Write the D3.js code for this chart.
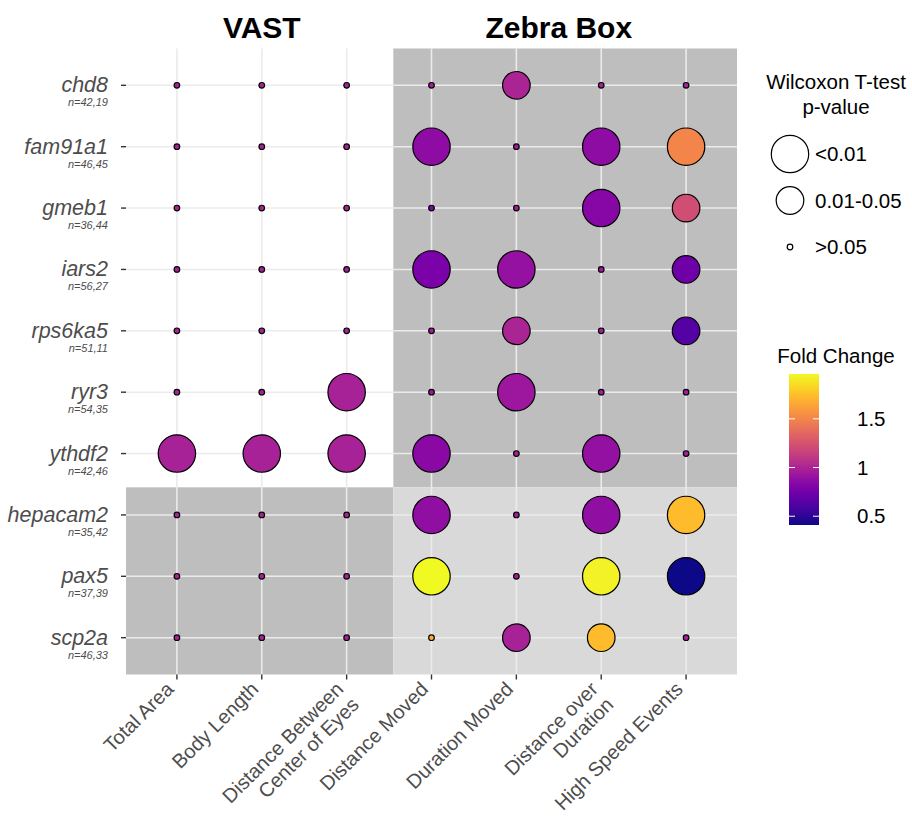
<html>
<head>
    <script src="https://d3js.org/d3.v7.min.js"></script>
    <style type="text/css">
        body { margin: 0; background: white; }
        text { font-family: "Liberation Sans", Arial, sans-serif; }
        line.grid { stroke: #ebebeb; stroke-width: 1.6; }
        line.tick { stroke: #333333; stroke-width: 1.4; }
        text.axis { fill: #4d4d4d; }
    </style>
</head>

<body>
    <svg></svg>

    <script>
        const genes = ["chd8", "fam91a1", "gmeb1", "iars2", "rps6ka5", "ryr3", "ythdf2", "hepacam2", "pax5", "scp2a"];
        const nLabels = ["n=42,19", "n=46,45", "n=36,44", "n=56,27", "n=51,11", "n=54,35", "n=42,46", "n=35,42", "n=37,39", "n=46,33"];
        const measures = ["Total Area", "Body Length", "Distance Between\nCenter of Eyes", "Distance Moved",
                          "Duration Moved", "Distance over\nDuration", "High Speed Events"];
        const groups = ["VAST", "Zebra Box"];

        // p-value class: 0 = >0.05, 1 = 0.01-0.05, 2 = <0.01
        const pClass = [
            [0, 0, 0, 0, 1, 0, 0],
            [0, 0, 0, 2, 0, 2, 2],
            [0, 0, 0, 0, 0, 2, 1],
            [0, 0, 0, 2, 2, 0, 1],
            [0, 0, 0, 0, 1, 0, 1],
            [0, 0, 2, 0, 2, 0, 0],
            [2, 2, 2, 2, 0, 2, 0],
            [0, 0, 0, 2, 0, 2, 2],
            [0, 0, 0, 2, 0, 2, 2],
            [0, 0, 0, 0, 1, 1, 0]
        ];
        const foldChange = [
            [0.98, 0.98, 0.98, 0.97, 1.00, 0.98, 0.98],
            [0.98, 0.98, 0.98, 0.87, 0.95, 0.87, 1.50],
            [0.98, 0.98, 0.98, 0.80, 0.95, 0.83, 1.22],
            [0.98, 0.98, 0.98, 0.78, 0.90, 0.95, 0.74],
            [0.98, 0.98, 0.98, 0.95, 1.00, 0.97, 0.64],
            [0.98, 0.98, 0.98, 0.93, 0.93, 0.97, 0.95],
            [0.98, 0.98, 0.98, 0.85, 0.98, 0.89, 0.97],
            [0.98, 0.98, 0.98, 0.88, 0.95, 0.88, 1.73],
            [0.98, 0.98, 0.98, 1.96, 0.95, 1.93, 0.41],
            [0.98, 0.98, 0.98, 1.68, 0.98, 1.73, 0.98]
        ];
        const pLabels = ["<0.01", "0.01-0.05", ">0.05"];
        const fcTicks = [0.5, 1, 1.5];
        const fcRange = [0.41, 1.96];

        const W = 912, H = 817;
        const svg = d3.select("svg").attr("width", W).attr("height", H);

        const x = d3.scalePoint().domain(measures).range([126, 737]).padding(0.6);
        const y = d3.scalePoint().domain(genes).range([48.5, 674.5]).padding(0.6);
        const xAt = (i) => x(measures[0]) + i * x.step();
        const yAt = (i) => y(genes[0]) + i * y.step();
        const r = d3.scaleOrdinal().domain([0, 1, 2]).range([2.8, 13.8, 18.7]);
        const color = d3.scaleSequential(d3.interpolatePlasma).domain(fcRange);

        const [px0, px1] = x.range(), [py0, py1] = y.range();
        const xs = xAt(2.55), ys = yAt(6.55);

        // shaded blocks
        const blocks = [
            { x0: xs, x1: px1, y0: py0, y1: ys, fill: "#bebebe" },
            { x0: px0, x1: xs, y0: ys, y1: py1, fill: "#bebebe" },
            { x0: xs, x1: px1, y0: ys, y1: py1, fill: "#d9d9d9" }
        ];
        svg.selectAll("rect.block").data(blocks).enter().append("rect")
            .attr("x", d => d.x0).attr("y", d => d.y0)
            .attr("width", d => d.x1 - d.x0).attr("height", d => d.y1 - d.y0)
            .attr("fill", d => d.fill);

        svg.selectAll("line.vgrid").data(measures).enter().append("line").classed("grid", true)
            .attr("x1", d => x(d)).attr("x2", d => x(d)).attr("y1", py0).attr("y2", py1);
        svg.selectAll("line.hgrid").data(genes).enter().append("line").classed("grid", true)
            .attr("y1", d => y(d)).attr("y2", d => y(d)).attr("x1", px0).attr("x2", px1);

        // ticks
        svg.selectAll("line.ytick").data(genes).enter().append("line").classed("tick", true)
            .attr("x1", px0 - 5).attr("x2", px0).attr("y1", d => y(d)).attr("y2", d => y(d));
        svg.selectAll("line.xtick").data(measures).enter().append("line").classed("tick", true)
            .attr("y1", py1).attr("y2", py1 + 5).attr("x1", d => x(d)).attr("x2", d => x(d));

        // gene labels
        const gl = svg.selectAll("g.glab").data(genes).enter().append("g")
            .attr("transform", d => "translate(" + (px0 - 18) + "," + y(d) + ")");
        gl.append("text").classed("axis", true).attr("text-anchor", "end")
            .attr("y", 7).style("font-size", "21.5px").style("font-style", "italic").text(d => d);
        gl.append("text").classed("axis", true).attr("text-anchor", "end")
            .attr("y", 21).style("font-size", "11px").style("font-style", "italic")
            .text((d, i) => nLabels[i]);

        // x labels
        const xl = svg.selectAll("g.xlab").data(measures).enter().append("g")
            .attr("transform", d => "translate(" + (x(d) - 12) + "," + (py1 + 6) + ") rotate(-45)");
        xl.append("text").classed("axis", true).attr("text-anchor", "end").style("font-size", "20px")
            .selectAll("tspan").data(d => d.split("\n")).enter().append("tspan")
            .attr("x", 0).attr("y", (d, i) => 14 + i * 22).text(d => d);

        // group titles
        svg.selectAll("text.group").data(groups).enter().append("text")
            .attr("x", (d, i) => i == 0 ? x(measures[1]) : (xAt(3) + xAt(6)) / 2)
            .attr("y", 38).attr("text-anchor", "middle")
            .style("font-size", "30px").style("font-weight", "bold").text(d => d);

        // points
        const cells = [];
        genes.forEach((g, i) => measures.forEach((m, j) =>
            cells.push({ g: g, m: m, p: pClass[i][j], fc: foldChange[i][j] })));
        svg.selectAll("circle.pt").data(cells).enter().append("circle")
            .attr("cx", d => x(d.m)).attr("cy", d => y(d.g)).attr("r", d => r(d.p))
            .attr("fill", d => color(d.fc)).attr("stroke", "black").attr("stroke-width", 1.2);

        // size legend
        const lg = svg.append("g");
        lg.selectAll("text.lt").data(["Wilcoxon T-test", "p-value"]).enter().append("text")
            .attr("x", 836).attr("y", (d, i) => 89 + i * 25).attr("text-anchor", "middle")
            .style("font-size", "20.5px").text(d => d);
        const lgY = d3.scalePoint().domain(pLabels).range([154, 247]);
        lg.selectAll("circle.lc").data(pLabels).enter().append("circle")
            .attr("cx", 790).attr("cy", d => lgY(d)).attr("r", (d, i) => r(2 - i))
            .attr("fill", "white").attr("stroke", "black").attr("stroke-width", 1.2);
        lg.selectAll("text.ll").data(pLabels).enter().append("text")
            .attr("x", 815).attr("y", d => lgY(d) + 7).style("font-size", "20.5px").text(d => d);

        // colour bar
        const defs = svg.append("defs");
        const grad = defs.append("linearGradient").attr("id", "fc")
            .attr("x1", 0).attr("y1", 1).attr("x2", 0).attr("y2", 0);
        grad.selectAll("stop").data(d3.range(0, 1.0001, 0.05)).enter().append("stop")
            .attr("offset", d => d).attr("stop-color", d => d3.interpolatePlasma(d));
        const cb = d3.scaleLinear().domain(fcRange).range([525, 374]);
        svg.append("text").attr("x", 836).attr("y", 363).attr("text-anchor", "middle")
            .style("font-size", "20.5px").text("Fold Change");
        svg.append("rect").attr("x", 789).attr("y", cb(fcRange[1])).attr("width", 30)
            .attr("height", cb(fcRange[0]) - cb(fcRange[1])).attr("fill", "url(#fc)");
        fcTicks.forEach(t => {
            svg.append("line").attr("x1", 789).attr("x2", 795).attr("y1", cb(t)).attr("y2", cb(t))
                .attr("stroke", "white").attr("stroke-width", 1);
            svg.append("line").attr("x1", 813).attr("x2", 819).attr("y1", cb(t)).attr("y2", cb(t))
                .attr("stroke", "white").attr("stroke-width", 1);
        });
        svg.selectAll("text.cbl").data(fcTicks).enter().append("text")
            .attr("x", 857).attr("y", d => cb(d) + 7).style("font-size", "20.5px").text(d => d);
    </script>
</body>

</html>
